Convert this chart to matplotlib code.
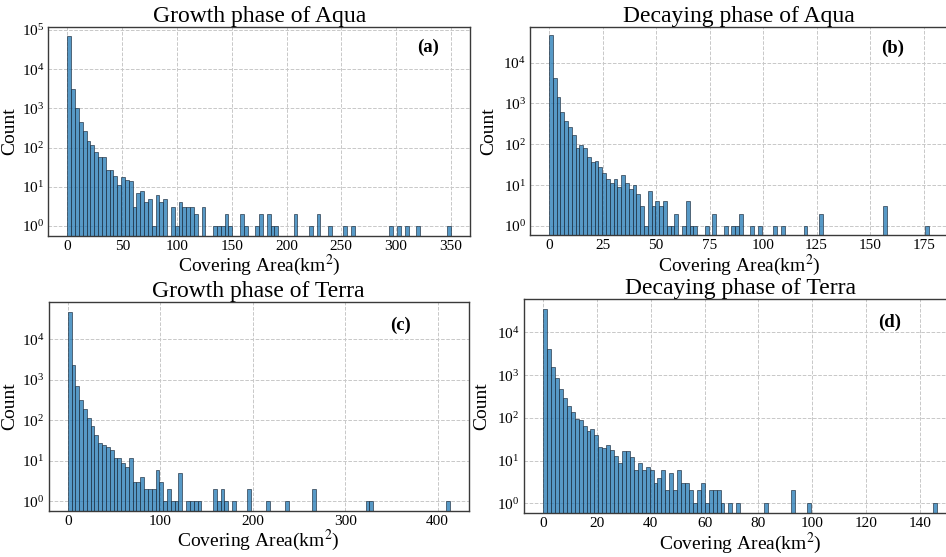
import numpy as np
import matplotlib
matplotlib.use("Agg")
import matplotlib.pyplot as plt

plt.rcParams['font.family'] = ['Liberation Serif', 'DejaVu Serif']
plt.rcParams['mathtext.fontset'] = 'stix'

# ---------------- data (counts per bin, 100 equal bins from 0 to max) ----------------
titles = ["Growth phase of Aqua", "Decaying phase of Aqua",
          "Growth phase of Terra", "Decaying phase of Terra"]
panel_tags = ["(a)", "(b)", "(c)", "(d)"]

max_a = 350.0
counts_a = [68000, 3100, 1000, 460, 270, 150, 115, 79, 59, 59, 27, 26, 19, 11, 18, 15, 14, 3, 7, 8,
            4, 5, 1, 6, 4, 5, 0, 3, 1, 4, 3, 3, 3, 2, 0, 3, 0, 0, 1, 1,
            1, 2, 1, 0, 0, 2, 1, 0, 0, 1, 2, 0, 2, 1, 1, 0, 0, 0, 0, 2,
            0, 0, 0, 1, 0, 2, 0, 0, 1, 0, 0, 0, 1, 0, 1, 0, 0, 0, 0, 0,
            0, 0, 0, 0, 1, 0, 1, 0, 1, 0, 0, 1, 0, 0, 0, 0, 0, 0, 0, 1]

max_b = 177.5
counts_b = [47000, 4300, 1440, 620, 370, 260, 173, 81, 95, 81, 48, 36, 39, 27, 20, 14, 11, 14, 9, 18,
            11, 8, 10, 6, 3, 1, 7, 3, 4, 3, 4, 1, 1, 2, 0, 1, 4, 1, 1, 0,
            0, 1, 0, 2, 0, 0, 1, 0, 1, 1, 2, 0, 0, 1, 0, 1, 0, 0, 0, 1,
            0, 1, 0, 0, 0, 0, 0, 1, 0, 0, 0, 2, 0, 0, 0, 0, 0, 0, 0, 0,
            0, 0, 0, 0, 0, 0, 0, 0, 3, 0, 0, 0, 0, 0, 0, 0, 0, 0, 0, 1]

max_c = 413.0
counts_c = [48000, 2340, 700, 320, 187, 116, 73, 43, 27, 24, 22, 19, 12, 12, 9, 7, 12, 3, 3, 4,
            2, 2, 2, 6, 3, 1, 2, 1, 1, 5, 0, 1, 1, 1, 1, 0, 0, 0, 2, 1,
            2, 1, 0, 1, 0, 0, 0, 2, 0, 0, 0, 0, 1, 0, 0, 0, 0, 1, 0, 0,
            0, 0, 0, 0, 2, 0, 0, 0, 0, 0, 0, 0, 0, 0, 0, 0, 0, 0, 1, 1,
            0, 0, 0, 0, 0, 0, 0, 0, 0, 0, 0, 0, 0, 0, 0, 0, 0, 0, 0, 1]

max_d = 146.5
counts_d = [35700, 4080, 1540, 840, 470, 290, 192, 134, 93, 87, 63, 48, 54, 40, 21, 20, 23, 18, 13, 9,
            17, 17, 12, 6, 9, 6, 7, 6, 3, 4, 6, 2, 5, 2, 6, 3, 3, 2, 1, 2,
            3, 1, 2, 2, 2, 1, 0, 1, 0, 1, 0, 0, 0, 0, 0, 0, 1, 0, 0, 0,
            0, 0, 0, 2, 0, 0, 0, 1, 0, 0, 0, 0, 0, 0, 0, 0, 0, 0, 0, 0,
            0, 0, 0, 0, 0, 0, 0, 0, 0, 0, 0, 0, 0, 0, 0, 0, 0, 0, 0, 1]

xticks_a = [0, 50, 100, 150, 200, 250, 300, 350]
xticks_b = [0, 25, 50, 75, 100, 125, 150, 175]
xticks_c = [0, 100, 200, 300, 400]
xticks_d = [0, 20, 40, 60, 80, 100, 120, 140]

# ---------------- layout ----------------
W, H = 946, 557
fig = plt.figure(figsize=(W / 100, H / 100), dpi=100)

def px_axes(x0, x1, y0, y1):
    return fig.add_axes([x0 / W, 1 - y1 / H, (x1 - x0) / W, (y1 - y0) / H])

panels = [
    (px_axes(48.3, 470, 26.7, 236), max_a, counts_a, xticks_a, (-0.255, 5.08), (0.90, 0.90), -0.072),
    (px_axes(530, 948, 26.7, 235.3), max_b, counts_b, xticks_b, (-0.23, 4.88), (0.868, 0.895), -0.079),
    (px_axes(48.6, 468.8, 302.3, 510.7), max_c, counts_c, xticks_c, (-0.23, 4.91), (0.837, 0.89), -0.073),
    (px_axes(523.5, 957, 299, 513.3), max_d, counts_d, xticks_d, (-0.234, 4.78), (0.845, 0.893), -0.077),
]

face = '#1f77b4'
for i, (ax, vmax, counts, xt, ylog, tagpos, ylab_x) in enumerate(panels):
    edges = np.linspace(0, vmax, len(counts) + 1)
    c = np.asarray(counts, dtype=float)
    ax.hist(edges[:-1], bins=edges, weights=c, color=face, alpha=0.75,
            edgecolor='#1c2c3c', linewidth=0.6, zorder=2)
    ax.set_yscale('log')
    ax.set_ylim(10 ** ylog[0], 10 ** ylog[1])
    ax.set_xlim(-0.05 * vmax, 1.05 * vmax)
    ax.set_xticks(xt)
    ax.set_yticks([10 ** k for k in range(0, int(np.floor(ylog[1])) + 1)])
    ax.minorticks_off()
    ax.grid(True, which='major', linestyle='--', color='#c8c8c8', linewidth=0.7, zorder=0)
    ax.set_axisbelow(True)
    ax.tick_params(axis='both', length=0, labelsize=11, pad=3)
    for s in ax.spines.values():
        s.set_color('#3a3a3a')
        s.set_linewidth(1.0)
    ax.set_title(titles[i], fontsize=17, pad=3)
    ax.set_xlabel('Covering Area(km$^2$)', fontsize=14, labelpad=0)
    ax.set_ylabel('Count', fontsize=14)
    ax.yaxis.set_label_coords(ylab_x, 0.5)
    ax.text(tagpos[0], tagpos[1], panel_tags[i], transform=ax.transAxes,
            fontsize=13.5, fontweight='bold', ha='center', va='center')

fig.savefig('out.png', dpi=100)
